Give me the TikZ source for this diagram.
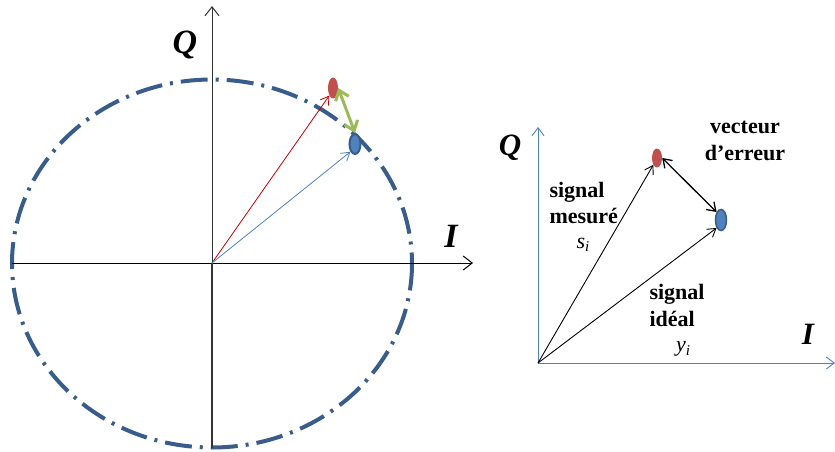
\documentclass[tikz,border=0pt]{standalone}
\usepackage{fontspec}
\setmainfont{Liberation Serif}
\usetikzlibrary{arrows.meta,shapes.geometric}
\definecolor{circblue}{HTML}{385D8A}
\definecolor{dotblue}{HTML}{4F81BD}
\definecolor{dotred}{HTML}{C0504D}
\definecolor{arrred}{HTML}{C00000}
\definecolor{errgreen}{HTML}{9BBB59}
\tikzset{
  axis/.style={line width=1pt,-{Straight Barb[length=9pt,width=14pt]}},
  raxis/.style={draw=dotblue,line width=0.9pt,-{Straight Barb[length=8pt,width=12pt]}},
  vec/.style={line width=0.9pt,-{Straight Barb[length=8pt,width=10pt]}},
  dvec/.style={line width=1.3pt,{Straight Barb[length=8pt,width=11pt]}-{Straight Barb[length=8pt,width=11pt]}},
  reddot/.style={ellipse,fill=dotred,inner sep=0pt,minimum width=10pt,minimum height=21pt},
  bluedot/.style={ellipse,fill=dotblue,draw=circblue,line width=2pt,inner sep=0pt,minimum width=11pt,minimum height=20pt},
  bigaxlab/.style={font=\fontsize{34}{34}\selectfont\bfseries\itshape},
  axlab/.style={font=\fontsize{31}{31}\selectfont\bfseries\itshape},
  txt/.style={font=\fontsize{22}{27}\selectfont\bfseries},
  sym/.style={font=\fontsize{22}{24}\selectfont\itshape},
  circ/.style={draw=circblue,line width=4pt,dash pattern=on 27pt off 8pt on 3pt off 8pt}
}
\begin{document}
\begin{tikzpicture}[x=1pt,y=-1pt]
\useasboundingbox (0,0) rectangle (835,452);
% left diagram
\draw[circ] (212,263.5) ellipse [x radius=200, y radius=184];
\coordinate (O) at (212,263);
\coordinate (xl) at (12,263);
\coordinate (xr) at (473,263);
\coordinate (yb) at (212,448);
\coordinate (yt) at (212,6);
\draw[line width=1pt] (xl) -- (O);
\draw[axis] (O) -- (xr);
\draw[line width=1.2pt,draw=black!80] (yb) -- (O);
\draw[axis,draw=black!80] (O) -- (yt);
\node[bigaxlab] (Ql) at (185,45) {Q};
\node[bigaxlab] (Il) at (451,236) {I};
\node[reddot] (rl) at (333,88) {};
\node[bluedot] (bl) at (355,144) {};
\draw[vec,draw=arrred,line width=0.8pt] (O) -- (rl.south west);
\draw[vec,draw=dotblue,line width=0.8pt] (O) -- (bl.south west);
\draw[draw=errgreen,line width=3pt,{Straight Barb[length=9pt,width=14pt]}-{Straight Barb[length=9pt,width=14pt]}] (rl.east) -- (bl.north);
% right diagram
\coordinate (O2) at (538,363);
\coordinate (xr2) at (835,363);
\coordinate (yt2) at (538,127);
\draw[raxis] (O2) -- (xr2);
\draw[raxis] (O2) -- (yt2);
\node[axlab] (Qr) at (510,148) {Q};
\node[axlab] (Ir) at (808,334) {I};
\node[reddot,minimum width=10pt,minimum height=19pt] (rr) at (657,158) {};
\node[bluedot,line width=1.5pt,minimum width=11pt,minimum height=21pt] (br) at (721,220) {};
\draw[vec] (O2) -- (rr.south west);
\draw[vec] (O2) -- (br.south west);
\draw[dvec] (rr.east) -- (br.north west);
\node[txt,align=center] (err) at (745,141) {vecteur\\d’erreur};
\node[txt,align=left,anchor=west] (mes) at (546,203) {signal\\mesuré};
\node[sym] (si) at (583,245) {s\raisebox{-0.35ex}{\fontsize{15}{15}\selectfont i}};
\node[txt,align=left,anchor=west] (ide) at (646,305) {signal\\idéal};
\node[sym] (yi) at (683,349) {y\raisebox{-0.35ex}{\fontsize{15}{15}\selectfont i}};
\end{tikzpicture}
\end{document}
